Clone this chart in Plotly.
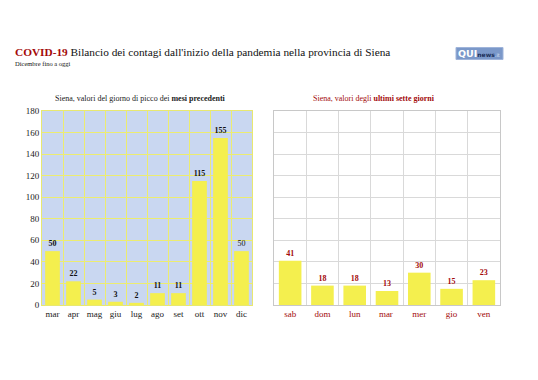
import plotly.graph_objects as go

months = ["mar", "apr", "mag", "giu", "lug", "ago", "set", "ott", "nov", "dic"]
month_vals = [50, 22, 5, 3, 2, 11, 11, 115, 155, 50]
days = ["sab", "dom", "lun", "mar ", "mer", "gio", "ven"]
day_vals = [41, 18, 18, 13, 30, 15, 23]
y_ticks = [0, 20, 40, 60, 80, 100, 120, 140, 160, 180]

W, H = 538, 380
def px_x(x): return x / W
def px_y(y): return 1 - y / H

SERIF = "Liberation Serif"
DARKRED = "#a30a0a"
BAR = "#f4ef4e"

month_tmpl = ["<b>%{y}</b>"] * (len(month_vals) - 1) + ["%{y}"]

fig = go.Figure()
fig.add_trace(go.Bar(x=months, y=month_vals, marker=dict(color=BAR, line=dict(width=0)),
                     texttemplate=month_tmpl, textposition="outside", cliponaxis=False,
                     textfont=dict(family=SERIF, size=8, color="#111"),
                     xaxis="x", yaxis="y", width=0.7))
fig.add_trace(go.Bar(x=days, y=day_vals, marker=dict(color=BAR, line=dict(width=0)),
                     texttemplate="<b>%{y}</b>", textposition="outside", cliponaxis=False,
                     textfont=dict(family=SERIF, size=8, color=DARKRED),
                     xaxis="x2", yaxis="y2", width=0.7))

ydom = [px_y(305), px_y(111)]
fig.update_layout(
    template="none",
    width=W, height=H, margin=dict(l=0, r=0, t=0, b=0, autoexpand=False),
    paper_bgcolor="white", showlegend=False,
    font=dict(family=SERIF),
    xaxis=dict(domain=[px_x(42), px_x(252)], type="category", tickson="boundaries",
               showgrid=True, gridcolor="#ecec70", gridwidth=1, ticks="", tickangle=0,
               automargin=False,
               tickfont=dict(family=SERIF, size=9, color="#222"),
               showline=True, linecolor="#e8e870", mirror=True, anchor="y"),
    yaxis=dict(domain=ydom, range=[0, 180], tickvals=y_ticks, showgrid=True,
               gridcolor="#ecec70", gridwidth=1, zeroline=False, automargin=False,
               tickfont=dict(family=SERIF, size=9, color="#222"),
               showline=True, linecolor="#e8e870", mirror=True, anchor="x", ticks=""),
    xaxis2=dict(domain=[px_x(274), px_x(500)], type="category", tickson="boundaries",
                showgrid=True, gridcolor="#d9d9d9", gridwidth=1, ticks="", tickangle=0,
                automargin=False,
                tickfont=dict(family=SERIF, size=9, color=DARKRED),
                showline=True, linecolor="#c8c8c8", mirror=True, anchor="y2"),
    yaxis2=dict(domain=ydom, range=[0, 180], tickvals=y_ticks, showgrid=True,
                gridcolor="#d9d9d9", gridwidth=1, zeroline=False, showticklabels=False,
                automargin=False,
                showline=True, linecolor="#c8c8c8", mirror=True, anchor="x2", ticks=""),
    plot_bgcolor="white",
    bargap=0.3,
)

# blue background for left plot
fig.add_shape(type="rect", xref="x domain", yref="y domain", x0=0, x1=1, y0=0, y1=1,
              fillcolor="#c9d7f1", line=dict(width=0), layer="below")

anns = [
    dict(x=px_x(14), y=px_y(52), text="<b><span style='color:%s'>COVID-19</span></b> Bilancio dei contagi dall'inizio della pandemia nella provincia di Siena" % DARKRED,
         font=dict(family=SERIF, size=11.3, color="#111"), xanchor="left", yanchor="middle"),
    dict(x=px_x(14), y=px_y(64), text="Dicembre fino a oggi",
         font=dict(family=SERIF, size=6.5, color="#111"), xanchor="left", yanchor="middle"),
    dict(x=px_x(140), y=px_y(98), text="Siena, valori del giorno di picco dei <b>mesi precedenti</b>",
         font=dict(family=SERIF, size=8, color="#222"), xanchor="center", yanchor="middle"),
    dict(x=px_x(374), y=px_y(98), text="Siena, valori degli <b>ultimi sette giorni</b>",
         font=dict(family=SERIF, size=8, color=DARKRED), xanchor="center", yanchor="middle"),
    dict(x=px_x(457), y=px_y(53.5), text="<b>QUI</b><span style='font-size:6px;color:#1c2f5a'><b>news</b></span><span style='font-size:5px;color:#dbe4f5'>.it</span>",
         font=dict(family="DejaVu Sans", size=9.5, color="white"), xanchor="left", yanchor="middle"),
]
for a in anns:
    a.update(xref="paper", yref="paper", showarrow=False, borderpad=0)
fig.update_layout(annotations=anns)

fig.add_shape(type="rect", xref="paper", yref="paper", x0=px_x(456), x1=px_x(503),
              y0=px_y(59.5), y1=px_y(47.5), fillcolor="#7b98c9", line=dict(color="#9fb4da", width=1),
              layer="below")

fig.write_html("out.html", config={"displayModeBar": False},
               post_script="document.body.style.margin='0';")
